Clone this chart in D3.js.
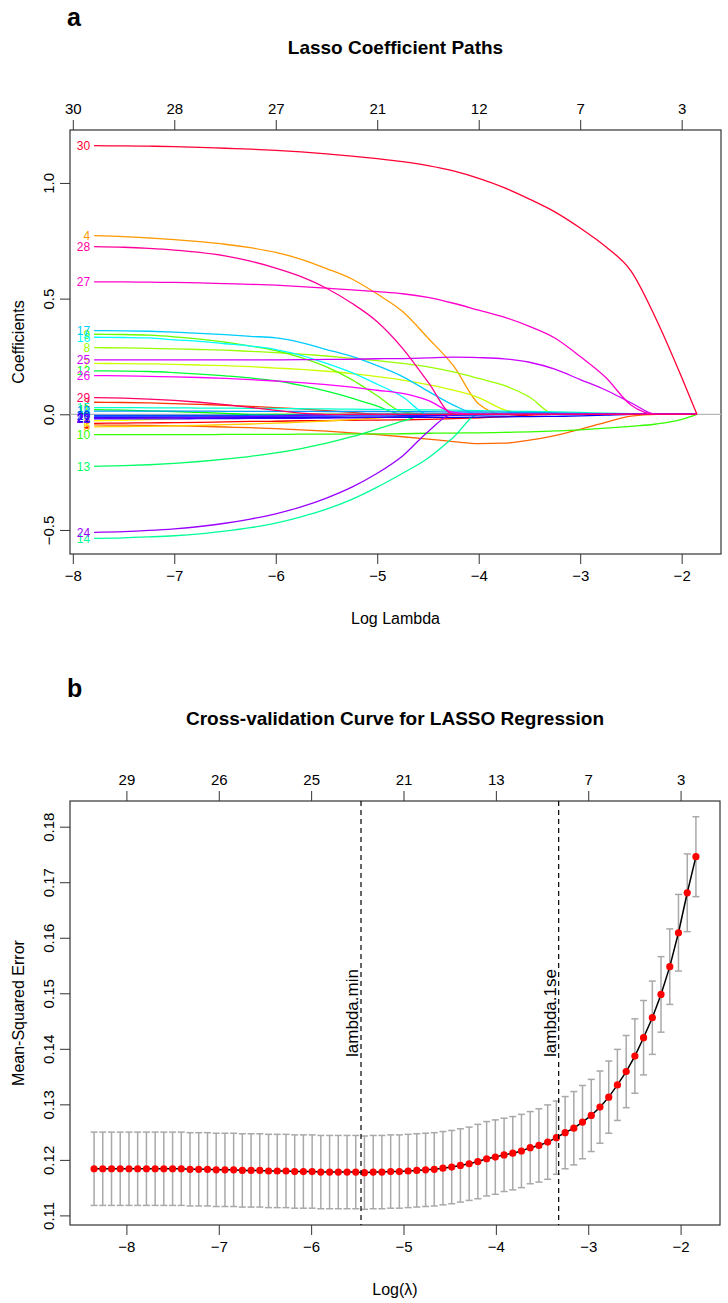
<!DOCTYPE html>
<html><head><meta charset="utf-8">
<script src="https://cdn.jsdelivr.net/npm/d3@7"></script>
<style>
body{margin:0;background:#fff}
svg{display:block}
text{font-family:"Liberation Sans",Arial,Helvetica,sans-serif;fill:#000}
</style>
</head><body>
<svg id="chart" width="728" height="1303"></svg>
<script>
// ---------------- DATA: panel a (lasso coefficient paths) ----------------
const lassoLogLambda = [-7.79,-7.5,-7.25,-7,-6.75,-6.5,-6.25,-6,-5.75,-5.5,-5.25,-5,-4.75,-4.5,-4.25,-4,-3.75,-3.5,-3.25,-3,-2.75,-2.5,-2.25,-2,-1.85];
const coef1  = [-0.039,-0.038,-0.037,-0.036,-0.035,-0.033,-0.031,-0.030,-0.028,-0.027,-0.026,-0.025,-0.024,-0.022,-0.019,-0.015,-0.010,-0.004,0,0,0,0,0,0,0];
const coef2  = [0.052,0.051,0.049,0.046,0.043,0.039,0.034,0.029,0.023,0.016,0.008,0,0,0,0,0,0,0,0,0,0,0,0,0,0];
const coef3  = [-0.046,-0.047,-0.048,-0.050,-0.052,-0.055,-0.058,-0.062,-0.067,-0.073,-0.080,-0.088,-0.097,-0.107,-0.118,-0.127,-0.125,-0.112,-0.092,-0.065,-0.035,-0.008,0,0,0];
const coef4  = [0.772,0.768,0.762,0.755,0.746,0.735,0.720,0.700,0.670,0.630,0.585,0.520,0.444,0.330,0.210,0.045,0,0,0,0,0,0,0,0,0];
const coef5  = [-0.054,-0.053,-0.052,-0.050,-0.048,-0.045,-0.042,-0.038,-0.034,-0.029,-0.023,-0.016,-0.008,0,0,0,0,0,0,0,0,0,0,0,0];
const coef6  = [-0.028,-0.026,-0.023,-0.019,-0.014,-0.008,-0.002,0,0,0,0,0,0,0,0,0,0,0,0,0,0,0,0,0,0];
const coef7  = [0.220,0.219,0.218,0.216,0.213,0.210,0.206,0.200,0.194,0.186,0.176,0.163,0.148,0.128,0.104,0.072,0.020,0,0,0,0,0,0,0,0];
const coef8  = [0.288,0.287,0.285,0.283,0.280,0.277,0.272,0.267,0.260,0.252,0.242,0.232,0.220,0.205,0.183,0.155,0.125,0.075,0,0,0,0,0,0,0];
const coef9  = [0.346,0.345,0.342,0.335,0.325,0.312,0.295,0.275,0.245,0.205,0.150,0.080,0.010,0,0,0,0,0,0,0,0,0,0,0,0];
const coef10 = [-0.088,-0.088,-0.088,-0.088,-0.088,-0.087,-0.087,-0.087,-0.086,-0.086,-0.085,-0.085,-0.084,-0.082,-0.081,-0.080,-0.078,-0.076,-0.072,-0.067,-0.060,-0.052,-0.042,-0.022,0];
const coef11 = [0.020,0.018,0.015,0.012,0.008,0.004,0,0,0,0,0,0,0,0,0,0,0,0,0,0,0,0,0,0,0];
const coef12 = [0.188,0.187,0.185,0.180,0.174,0.166,0.157,0.145,0.125,0.100,0.070,0.035,0,0,0,0,0,0,0,0,0,0,0,0,0];
const coef13 = [-0.225,-0.222,-0.218,-0.212,-0.204,-0.194,-0.182,-0.167,-0.148,-0.125,-0.097,-0.064,-0.030,0,0,0,0,0,0,0,0,0,0,0,0];
const coef14 = [-0.536,-0.534,-0.530,-0.525,-0.517,-0.505,-0.490,-0.470,-0.443,-0.410,-0.368,-0.315,-0.255,-0.190,-0.100,0,0,0,0,0,0,0,0,0,0];
const coef15 = [0.029,0.029,0.028,0.028,0.027,0.027,0.026,0.025,0.024,0.023,0.022,0.021,0.020,0.019,0.018,0.016,0.014,0.012,0.010,0.008,0.005,0.003,0,0,0];
const coef16 = [0.333,0.332,0.330,0.322,0.315,0.305,0.295,0.280,0.255,0.220,0.180,0.130,0.076,0,0,0,0,0,0,0,0,0,0,0,0];
const coef17 = [0.362,0.361,0.359,0.355,0.350,0.344,0.337,0.330,0.310,0.280,0.250,0.210,0.163,0.100,0.040,0,0,0,0,0,0,0,0,0,0];
const coef18 = [0.014,0.014,0.014,0.014,0.014,0.013,0.013,0.013,0.013,0.012,0.012,0.012,0.011,0.011,0.010,0.010,0.009,0.008,0.006,0.004,0.002,0,0,0,0];
const coef19 = [-0.005,-0.005,-0.005,-0.005,-0.005,-0.005,-0.004,-0.004,-0.003,-0.002,-0.001,0,0,0,0,0,0,0,0,0,0,0,0,0,0];
const coef20 = [-0.008,-0.008,-0.008,-0.008,-0.008,-0.008,-0.008,-0.008,-0.008,-0.008,-0.007,-0.007,-0.006,-0.005,-0.004,-0.003,-0.002,0,0,0,0,0,0,0,0];
const coef21 = [-0.013,-0.013,-0.013,-0.013,-0.013,-0.013,-0.013,-0.013,-0.013,-0.013,-0.013,-0.013,-0.013,-0.013,-0.013,-0.012,-0.011,-0.010,-0.009,-0.007,-0.004,0,0,0,0];
const coef22 = [-0.020,-0.020,-0.020,-0.020,-0.019,-0.019,-0.018,-0.018,-0.017,-0.016,-0.015,-0.013,-0.011,-0.008,-0.004,0,0,0,0,0,0,0,0,0,0];
const coef23 = [-0.017,-0.017,-0.016,-0.015,-0.014,-0.012,-0.010,-0.008,-0.005,-0.002,0,0,0,0,0,0,0,0,0,0,0,0,0,0,0];
const coef24 = [-0.510,-0.507,-0.502,-0.495,-0.485,-0.471,-0.453,-0.430,-0.400,-0.362,-0.315,-0.255,-0.180,-0.075,0,0,0,0,0,0,0,0,0,0,0];
const coef25 = [0.235,0.235,0.235,0.235,0.235,0.235,0.235,0.235,0.236,0.237,0.238,0.240,0.241,0.244,0.247,0.245,0.240,0.225,0.195,0.150,0.105,0.050,0,0,0];
const coef26 = [0.167,0.166,0.164,0.162,0.159,0.155,0.150,0.144,0.137,0.128,0.117,0.104,0.090,0.060,0.008,0,0,0,0,0,0,0,0,0,0];
const coef27 = [0.572,0.572,0.571,0.570,0.568,0.565,0.562,0.558,0.552,0.545,0.538,0.530,0.521,0.505,0.480,0.450,0.420,0.380,0.330,0.250,0.160,0.040,0,0,0];
const coef28 = [0.725,0.722,0.717,0.710,0.700,0.685,0.662,0.632,0.595,0.545,0.480,0.400,0.285,0.140,0,0,0,0,0,0,0,0,0,0,0];
const coef29 = [0.072,0.070,0.066,0.060,0.052,0.042,0.030,0.017,0.005,0,0,0,0,0,0,0,0,0,0,0,0,0,0,0,0];
const coef30 = [1.161,1.160,1.159,1.157,1.154,1.150,1.146,1.141,1.134,1.126,1.116,1.105,1.092,1.075,1.052,1.020,0.980,0.930,0.875,0.805,0.725,0.620,0.410,0.160,0];
const coefficientSeries = [coef1,coef2,coef3,coef4,coef5,coef6,coef7,coef8,coef9,coef10,coef11,coef12,coef13,coef14,coef15,coef16,coef17,coef18,coef19,coef20,coef21,coef22,coef23,coef24,coef25,coef26,coef27,coef28,coef29,coef30];
const pathTickValues = [-8,-7,-6,-5,-4,-3,-2];
const pathDfLabels = [30,28,27,21,12,7,3];
const pathYTicks = [-0.5,0.0,0.5,1.0];

// ---------------- DATA: panel b (cross-validation curve) ----------------
const cvLogLambda = [-8.350,-8.256,-8.161,-8.067,-7.972,-7.878,-7.783,-7.689,-7.595,-7.500,-7.406,-7.311,-7.217,-7.122,-7.028,-6.933,-6.839,-6.745,-6.650,-6.556,-6.461,-6.367,-6.272,-6.178,-6.084,-5.989,-5.895,-5.800,-5.706,-5.611,-5.517,-5.423,-5.328,-5.234,-5.139,-5.045,-4.950,-4.856,-4.761,-4.667,-4.573,-4.478,-4.384,-4.289,-4.195,-4.100,-4.006,-3.911,-3.817,-3.723,-3.628,-3.534,-3.439,-3.345,-3.250,-3.156,-3.062,-2.967,-2.873,-2.778,-2.684,-2.589,-2.495,-2.401,-2.306,-2.212,-2.117,-2.023,-1.928,-1.834];
const cvMean = [0.1184,0.1184,0.1184,0.1184,0.1184,0.1184,0.1184,0.1184,0.1184,0.1184,0.1184,0.1183,0.1183,0.1183,0.1182,0.1182,0.1182,0.1181,0.1181,0.1181,0.1180,0.1180,0.1180,0.1179,0.1179,0.1179,0.1178,0.1178,0.1178,0.1178,0.1178,0.1177,0.1178,0.1178,0.1179,0.1179,0.1180,0.1181,0.1182,0.1183,0.1185,0.1187,0.1190,0.1193,0.1197,0.1202,0.1205,0.1209,0.1212,0.1216,0.1222,0.1226,0.1232,0.1240,0.1249,0.1257,0.1268,0.1280,0.1295,0.1313,0.1335,0.1359,0.1387,0.1420,0.1456,0.1498,0.1548,0.1609,0.1681,0.1746];
const cvSE = [0.0066,0.0066,0.0066,0.0066,0.0066,0.0066,0.0066,0.0066,0.0066,0.0066,0.0066,0.0066,0.0066,0.0066,0.0066,0.0066,0.0066,0.0066,0.0066,0.0066,0.0066,0.0066,0.0066,0.0066,0.0066,0.0066,0.0066,0.0066,0.0066,0.0066,0.0066,0.0066,0.0066,0.0066,0.0066,0.0066,0.0066,0.0066,0.0066,0.0066,0.0066,0.0066,0.0066,0.0066,0.0067,0.0067,0.0067,0.0066,0.0066,0.0066,0.0065,0.0066,0.0067,0.0066,0.0065,0.0066,0.0066,0.0065,0.0065,0.0065,0.0064,0.0065,0.0067,0.0067,0.0066,0.0068,0.0068,0.0069,0.0070,0.0072];
const lambdaMinLog = -5.46;
const lambda1seLog = -3.32;
const cvTickValues = [-8,-7,-6,-5,-4,-3,-2];
const cvDfLabels = [29,26,25,21,13,7,3];
const cvYTicks = [0.11,0.12,0.13,0.14,0.15,0.16,0.17,0.18];

// ---------------- DRAWING ----------------
const svg = d3.select("#chart");
const FONT_TICK = 15, FONT_LAB = 16, FONT_MAIN = 19;

function padDomain(ext){ const p = 0.04*(ext[1]-ext[0]); return [ext[0]-p, ext[1]+p]; }

function frame(box, x, y, xTicks, xTopTicks, topLabels, yTicks, yFmt, xTitle, yTitle, mainTitle, letter){
  const g = svg.append("g");
  const ax = g.append("g").attr("transform",`translate(0,${box.b})`)
    .call(d3.axisBottom(x).tickValues(xTicks).tickSize(10).tickPadding(6).tickFormat(d3.format("d")));
  ax.select(".domain").remove();
  ax.selectAll("line").attr("stroke","#333");
  ax.selectAll("text").style("font-size",FONT_TICK+"px").attr("font-family",null);
  const at = g.append("g").attr("transform",`translate(0,${box.t})`)
    .call(d3.axisTop(x).tickValues(xTopTicks).tickSize(10).tickPadding(6).tickFormat((d,i)=>topLabels[i]));
  at.select(".domain").remove();
  at.selectAll("line").attr("stroke","#333");
  at.selectAll("text").style("font-size",FONT_TICK+"px").attr("font-family",null);
  const al = g.append("g").attr("transform",`translate(${box.l},0)`)
    .call(d3.axisLeft(y).tickValues(yTicks).tickSize(10).tickFormat(yFmt));
  al.select(".domain").remove();
  al.selectAll("line").attr("stroke","#333");
  al.selectAll("text").attr("x",null).attr("dy",null).attr("font-family",null)
    .style("font-size",FONT_TICK+"px")
    .attr("text-anchor","middle")
    .attr("transform","translate(-16,0) rotate(-90)");
  g.append("rect").attr("x",box.l).attr("y",box.t).attr("width",box.r-box.l).attr("height",box.b-box.t)
    .attr("fill","none").attr("stroke","#333").attr("stroke-width",1.2);
  g.append("text").attr("x",(box.l+box.r)/2).attr("y",box.b+70).attr("text-anchor","middle")
    .style("font-size",FONT_LAB+"px").text(xTitle);
  g.append("text").attr("transform",`translate(24,${(box.t+box.b)/2}) rotate(-90)`).attr("text-anchor","middle")
    .style("font-size",FONT_LAB+"px").text(yTitle);
  g.append("text").attr("x",(box.l+box.r)/2).attr("y",box.t-76).attr("text-anchor","middle")
    .style("font-size",FONT_MAIN+"px").style("font-weight","bold").text(mainTitle);
  g.append("text").attr("x",67).attr("y",box.t-104).style("font-size","25px").style("font-weight","bold").text(letter);
  return g;
}

// ---- panel a ----
const boxA = {l:70, r:721, t:130, b:554};
const xA = d3.scaleLinear().domain(padDomain(d3.extent(lassoLogLambda))).range([boxA.l, boxA.r]);
const allCoefs = coefficientSeries.flat();
const yA = d3.scaleLinear().domain(padDomain(d3.extent(allCoefs))).range([boxA.b, boxA.t]);
const gA = frame(boxA, xA, yA, pathTickValues, pathTickValues, pathDfLabels, pathYTicks, d3.format(".1f"),
  "Log Lambda", "Coefficients", "Lasso Coefficient Paths", "a");

const rainbow = i => d3.hsl((i*360/coefficientSeries.length), 1, 0.5).formatHex();
gA.append("line").attr("x1",boxA.l).attr("x2",boxA.r).attr("y1",yA(0)).attr("y2",yA(0))
  .attr("stroke","#b8b8b8").attr("stroke-width",1.2);
const lineA = d3.line().x((d,i)=>xA(lassoLogLambda[i])).y(d=>yA(d)).curve(d3.curveMonotoneX);
coefficientSeries.forEach((s,i)=>{
  gA.append("path").attr("d",lineA(s)).attr("fill","none").attr("stroke",rainbow(i)).attr("stroke-width",1.3);
});
coefficientSeries.forEach((s,i)=>{
  gA.append("text").attr("x",xA(lassoLogLambda[0])-4).attr("y",yA(s[0])).attr("dy","0.36em")
    .attr("text-anchor","end").style("font-size","12px").style("fill",rainbow(i)).text(i+1);
});

// ---- panel b ----
const boxB = {l:70, r:720, t:801, b:1225};
const xB = d3.scaleLinear().domain(padDomain(d3.extent(cvLogLambda))).range([boxB.l, boxB.r]);
const upper = cvMean.map((m,i)=>m+cvSE[i]);
const lower = cvMean.map((m,i)=>m-cvSE[i]);
const yB = d3.scaleLinear().domain(padDomain([d3.min(lower), d3.max(upper)])).range([boxB.b, boxB.t]);
const gB = frame(boxB, xB, yB, cvTickValues, cvTickValues, cvDfLabels, cvYTicks, d3.format(".2f"),
  "Log(λ)", "Mean-Squared Error", "Cross-validation Curve for LASSO Regression", "b");

const eb = gB.append("g").attr("stroke","#a9a9a9").attr("stroke-width",1.5);
cvLogLambda.forEach((L,i)=>{
  const x = xB(L);
  eb.append("line").attr("x1",x).attr("x2",x).attr("y1",yB(lower[i])).attr("y2",yB(upper[i]));
  eb.append("line").attr("x1",x-3.5).attr("x2",x+3.5).attr("y1",yB(upper[i])).attr("y2",yB(upper[i]));
  eb.append("line").attr("x1",x-3.5).attr("x2",x+3.5).attr("y1",yB(lower[i])).attr("y2",yB(lower[i]));
});
gB.append("path").attr("d", d3.line().x((d,i)=>xB(cvLogLambda[i])).y(d=>yB(d))(cvMean))
  .attr("fill","none").attr("stroke","#000").attr("stroke-width",1.5);
gB.selectAll("circle.pt").data(cvMean).enter().append("circle").attr("class","pt")
  .attr("cx",(d,i)=>xB(cvLogLambda[i])).attr("cy",d=>yB(d)).attr("r",3.6).attr("fill","#ff0000");
[[lambdaMinLog,"lambda.min"],[lambda1seLog,"lambda.1se"]].forEach(([L,lab])=>{
  const x = xB(L);
  gB.append("line").attr("x1",x).attr("x2",x).attr("y1",boxB.t).attr("y2",boxB.b)
    .attr("stroke","#000").attr("stroke-width",1.2).attr("stroke-dasharray","5,4");
  gB.append("text").attr("transform",`translate(${x-3},${(boxB.t+boxB.b)/2}) rotate(-90)`)
    .attr("text-anchor","middle").style("font-size","17px").text(lab);
});
</script>
</body></html>
